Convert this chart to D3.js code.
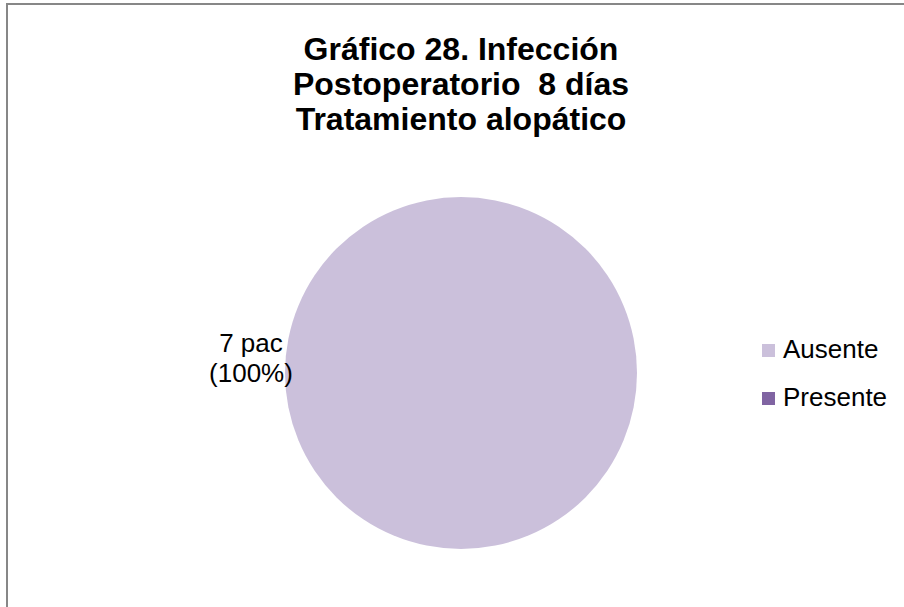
<!DOCTYPE html>
<html>
<head>
<meta charset="utf-8">
<script src="https://cdn.jsdelivr.net/npm/d3@7"></script>
<style>
  html, body { margin: 0; background: #fff; overflow: hidden; }
  svg { display: block; }
  text { font-family: Arial, "Liberation Sans", Helvetica, sans-serif; white-space: pre; }
</style>
</head>
<body>
<script>
// data
var categories = ["Ausente", "Presente"];
var values = [7, 0];
var labels = ["7 pac", "(100%)"];
var colors = ["#CBC0DB", "#8064A2"];
var titleLines = ["Gráfico 28. Infección", "Postoperatorio  8 días", "Tratamiento alopático"];

var width = 904, height = 607;
var cx = 461, cy = 373, radius = 176;

var svg = d3.select("body").append("svg")
  .attr("width", width)
  .attr("height", height);

// chart frame (right and bottom edges fall outside the picture)
svg.append("rect")
  .attr("x", 7)
  .attr("y", 4)
  .attr("width", width + 10)
  .attr("height", height + 10)
  .attr("fill", "#fff")
  .attr("stroke", "#878787")
  .attr("stroke-width", 2);

// title
svg.append("g").selectAll("text")
  .data(titleLines)
  .enter()
  .append("text")
  .attr("x", cx)
  .attr("y", function(d, i) { return 60 + i * 35; })
  .attr("text-anchor", "middle")
  .attr("font-weight", "bold")
  .attr("font-size", 32)
  .attr("fill", "#000")
  .text(function(d) { return d; });

// pie
var pie = d3.pie().sort(null).value(function(d) { return d; });
var arc = d3.arc().innerRadius(0).outerRadius(radius);

var g = svg.append("g").attr("transform", "translate(" + cx + "," + cy + ")");
g.selectAll("path")
  .data(pie(values))
  .enter()
  .append("path")
  .attr("d", arc)
  .attr("fill", function(d, i) { return colors[i]; });

// data label
svg.append("g").selectAll("text")
  .data(labels)
  .enter()
  .append("text")
  .attr("x", 251)
  .attr("y", function(d, i) { return 352 + i * 30; })
  .attr("text-anchor", "middle")
  .attr("font-size", 26)
  .attr("fill", "#000")
  .text(function(d) { return d; });

// legend
var legend = svg.append("g").selectAll("g")
  .data(categories)
  .enter()
  .append("g")
  .attr("transform", function(d, i) { return "translate(762," + (344 + i * 48) + ")"; });

legend.append("rect")
  .attr("width", 13)
  .attr("height", 13)
  .attr("fill", function(d, i) { return colors[i]; });

legend.append("text")
  .attr("x", 21)
  .attr("y", 14)
  .attr("font-size", 26)
  .attr("fill", "#000")
  .text(function(d) { return d; });
</script>
</body>
</html>
